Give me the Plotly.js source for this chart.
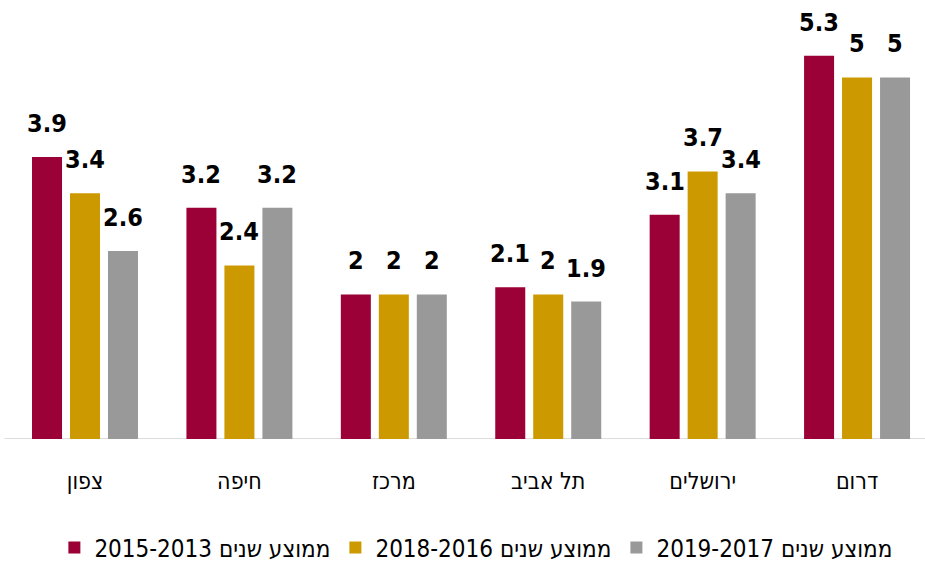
<!DOCTYPE html>
<html><head><meta charset="utf-8">
<script src="https://cdn.plot.ly/plotly-3.0.1.min.js"></script>
<style>html,body{margin:0;padding:0;background:#fff}</style>
</head><body><div id="chart" style="width:925px;height:562px"></div>
<script>
const categories = ["צפון", "חיפה", "מרכז", "תל אביב", "ירושלים", "דרום"];
const seriesNames = ["2015-2013 ממוצע שנים", "2018-2016 ממוצע שנים", "2019-2017 ממוצע שנים"];
const avg2013_2015 = [3.9, 3.2, 2, 2.1, 3.1, 5.3];
const avg2016_2018 = [3.4, 2.4, 2, 2, 3.7, 5];
const avg2017_2019 = [2.6, 3.2, 2, 1.9, 3.4, 5];
const colors = ["#9B0036", "#CC9900", "#999999"];

const series = [avg2013_2015, avg2016_2018, avg2017_2019];
const numFont = "DejaVu Sans Condensed, Liberation Sans Narrow, sans-serif";
const heFont = "Liberation Sans Narrow, DejaVu Sans Condensed, sans-serif";

const traces = series.map((vals, i) => ({
  type: "bar", x: categories, y: vals, name: seriesNames[i],
  marker: {color: colors[i]}, hoverinfo: "none"
}));

const annotations = [];
series.forEach((vals, i) => {
  vals.forEach((v, j) => {
    annotations.push({
      x: categories[j], y: v, xref: "x", yref: "y", text: String(v),
      showarrow: false, xanchor: "center", yanchor: "bottom",
      xshift: (i - 1) * 38, yshift: 17,
      font: {family: numFont, size: 25, color: "#000", weight: "bold"}
    });
  });
});

const layout = {
  width: 925, height: 562,
  margin: {l: 0, r: 0, t: 20, b: 123, autoexpand: false},
  paper_bgcolor: "#fff", plot_bgcolor: "#fff",
  barmode: "group", bargap: 0.262, bargroupgap: 0.21,
  showlegend: true,
  legend: {orientation: "h", x: 0.515, xanchor: "center", y: -0.26, yanchor: "middle",
    font: {family: heFont, size: 24, color: "#000"}, traceorder: "normal",
    itemwidth: 30},
  xaxis: {type: "category", range: [-0.5505, 5.44], showgrid: false, zeroline: false,
    showline: false, ticks: "outside", ticklen: 21, tickcolor: "rgba(0,0,0,0)",
    tickfont: {family: heFont, size: 23, color: "#000"}, fixedrange: true},
  yaxis: {range: [0, 5.795], visible: false, fixedrange: true},
  shapes: [{type: "line", xref: "paper", yref: "y", x0: 0.005, x1: 1, y0: 0, y1: 0,
    line: {color: "#dddddd", width: 2}, layer: "below"}],
  annotations: annotations
};
Plotly.newPlot("chart", traces, layout, {displayModeBar: false, staticPlot: true});
</script></body></html>
